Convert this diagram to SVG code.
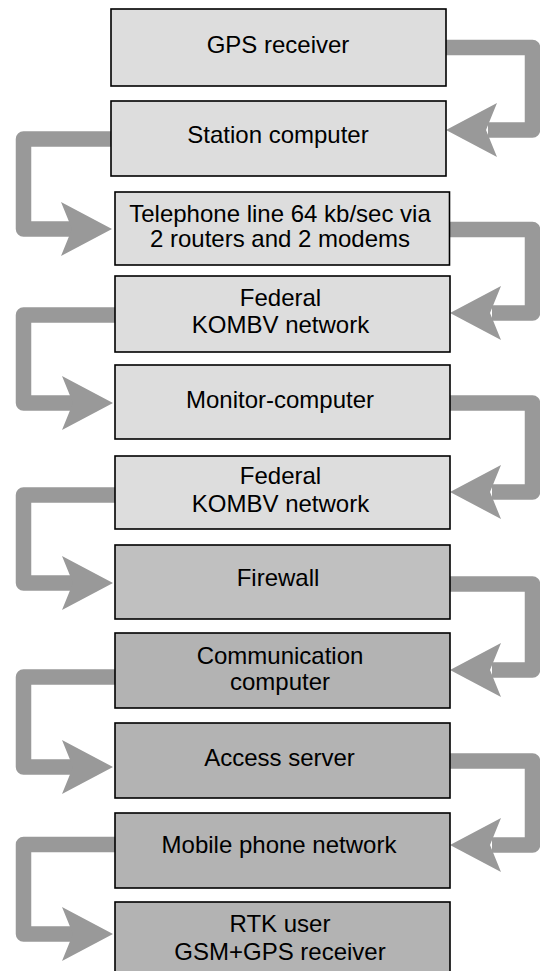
<svg xmlns="http://www.w3.org/2000/svg" xmlns:xlink="http://www.w3.org/1999/xlink" width="540" height="971" viewBox="0 0 540 971">
<style>
.box{stroke:#000;stroke-width:1.6}
.l1{fill:#dddddd}
.l2{fill:#c0c0c0}
.l3{fill:#b3b3b3}
text{font-family:"Liberation Sans",Arial,sans-serif;font-size:24px;fill:#000;text-anchor:middle}
.shaft{fill:none;stroke:#999999;stroke-width:15.5;stroke-linejoin:round;stroke-linecap:butt}
.head{fill:#999999}
</style>
<defs>
<polygon id="headR" class="head" points="0,0 -51,-27 -40,0 -51,27"/>
<polygon id="headL" class="head" points="0,0 51,-27 40,0 51,27"/>
</defs>
<rect width="540" height="971" fill="#fff"/>
<g id="connectors">
<path class="shaft" d="M446,47.5 H532.5 V130 H488"/>
<use xlink:href="#headL" x="446" y="130"/>
<path class="shaft" d="M111,139 H23.5 V229 H72"/>
<use xlink:href="#headR" x="112" y="229"/>
<path class="shaft" d="M449,229.5 H532.5 V313 H492"/>
<use xlink:href="#headL" x="450" y="313"/>
<path class="shaft" d="M115,315 H23.5 V403 H74"/>
<use xlink:href="#headR" x="113" y="403"/>
<path class="shaft" d="M450,403 H532.5 V492 H492"/>
<use xlink:href="#headL" x="450" y="492"/>
<path class="shaft" d="M115,495 H23.5 V583 H74"/>
<use xlink:href="#headR" x="113" y="583"/>
<path class="shaft" d="M450,584 H532.5 V670 H492"/>
<use xlink:href="#headL" x="450" y="670"/>
<path class="shaft" d="M115,677 H23.5 V767 H74"/>
<use xlink:href="#headR" x="113" y="767"/>
<path class="shaft" d="M450,761 H532.5 V845 H492"/>
<use xlink:href="#headL" x="450" y="845"/>
<path class="shaft" d="M115,844.5 H23.5 V934 H74"/>
<use xlink:href="#headR" x="113" y="934"/>
</g>
<g id="n1"><rect class="box l1" x="111" y="9" width="335" height="77"/><text x="278" y="52.5">GPS receiver</text></g>
<g id="n2"><rect class="box l1" x="111" y="101" width="335" height="75"/><text x="278" y="142.5">Station computer</text></g>
<g id="n3"><rect class="box l1" x="115" y="192" width="334.5" height="73"/><text x="280" y="221.7">Telephone line 64 kb/sec via</text><text x="280" y="246.7">2 routers and 2 modems</text></g>
<g id="n4"><rect class="box l1" x="115" y="276" width="335" height="76"/><text x="280.5" y="306">Federal</text><text x="280.5" y="332.7">KOMBV network</text></g>
<g id="n5"><rect class="box l1" x="115" y="365" width="335" height="74"/><text x="280" y="408.3">Monitor-computer</text></g>
<g id="n6"><rect class="box l1" x="115" y="456" width="335" height="73"/><text x="280.5" y="484">Federal</text><text x="280.5" y="512.3">KOMBV network</text></g>
<g id="n7"><rect class="box l2" x="115" y="545" width="335" height="74"/><text x="278" y="586">Firewall</text></g>
<g id="n8"><rect class="box l3" x="115" y="633" width="335" height="75"/><text x="280" y="664">Communication</text><text x="280" y="689.5">computer</text></g>
<g id="n9"><rect class="box l3" x="115" y="723" width="335" height="75"/><text x="279.5" y="765.7">Access server</text></g>
<g id="n10"><rect class="box l3" x="115" y="813" width="335" height="75"/><text x="279" y="853.3">Mobile phone network</text></g>
<g id="n11"><rect class="box l3" x="115" y="902" width="335" height="76"/><text x="280" y="932.3">RTK user</text><text x="280" y="960">GSM+GPS receiver</text></g>
</svg>
